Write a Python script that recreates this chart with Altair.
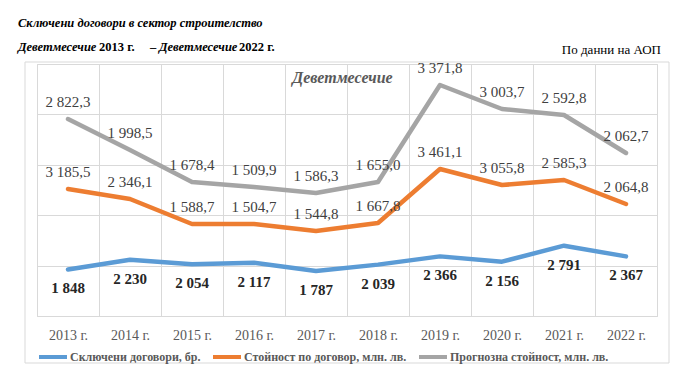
import altair as alt
import pandas as pd

years = ["2013 г.", "2014 г.", "2015 г.", "2016 г.", "2017 г.",
         "2018 г.", "2019 г.", "2020 г.", "2021 г.", "2022 г."]

series_names = ["Сключени договори, бр.",
                "Стойност по договор, млн. лв.",
                "Прогнозна стойност, млн. лв."]
series_colors = ["#5B9BD5", "#ED7D31", "#A5A5A5"]

# printed data labels
contracts = [1848, 2230, 2054, 2117, 1787, 2039, 2366, 2156, 2791, 2367]
contract_value_labels = [3185.5, 2346.1, 1588.7, 1504.7, 1544.8,
                         1667.8, 3461.1, 3055.8, 2585.3, 2064.8]
forecast_value_labels = [2822.3, 1998.5, 1678.4, 1509.9, 1586.3,
                         1655.0, 3371.8, 3003.7, 2592.8, 2062.7]

# line heights as drawn in the source (its lines do not follow every label)
contract_value_drawn = [2783, 2446, 1603, 1603, 1367, 1637, 3458, 2918, 3087, 2277]
forecast_value_drawn = [2768, 2214, 1643, 1554, 1446, 1643, 3375, 2946, 2839, 2161]


def fmt(v, decimals):
    s = f"{v:,.{decimals}f}"
    return s.replace(",", " ").replace(".", ",")


rows = []
for i, y in enumerate(years):
    rows.append({"year": y, "series": series_names[0],
                 "drawn": contracts[i], "label": fmt(contracts[i], 0)})
    rows.append({"year": y, "series": series_names[1],
                 "drawn": contract_value_drawn[i], "label": fmt(contract_value_labels[i], 1)})
    rows.append({"year": y, "series": series_names[2],
                 "drawn": forecast_value_drawn[i], "label": fmt(forecast_value_labels[i], 1)})
df = pd.DataFrame(rows)

FONT = "Liberation Serif"
GRID = "#d9d9d9"

color_scale = alt.Scale(domain=series_names, range=series_colors)

x_enc = alt.X(
    "year:N", sort=years, bandPosition=0.5,
    scale=alt.Scale(type="band", paddingInner=0, paddingOuter=0),
    axis=alt.Axis(title=None, grid=True, tickBand="extent", ticks=False,
                  domain=False, labelAngle=0, labelFont=FONT, labelFontSize=14,
                  labelColor="#595959", labelPadding=12, gridColor=GRID),
)


def series_layer(idx, domain, dy, bold, label_color, grid_axis=False, legend=None):
    name = series_names[idx]
    base = alt.Chart(df[df["series"] == name])
    if grid_axis:
        axis = alt.Axis(grid=True, labels=False, ticks=False, domain=False,
                        title=None, values=[0, 2000, 4000, 6000, 8000, 10000],
                        gridColor=GRID)
    else:
        axis = None
    y_enc = alt.Y("drawn:Q", scale=alt.Scale(domain=domain, nice=False, zero=False),
                  axis=axis)
    line = base.mark_line(strokeWidth=4.5, strokeCap="round", strokeJoin="round").encode(
        x=x_enc, y=y_enc,
        color=alt.Color("series:N", scale=color_scale, legend=legend),
    )
    text = base.mark_text(dy=dy, font=FONT, fontSize=15,
                          fontWeight="bold" if bold else "normal",
                          color=label_color).encode(
        x=x_enc, y=y_enc, text="label:N")
    return alt.layer(line, text)


legend = alt.Legend(orient="none", legendX=0, legendY=277, direction="horizontal",
                    title=None, symbolType="stroke", symbolStrokeWidth=4,
                    symbolSize=784, labelFont=FONT, labelFontWeight="bold",
                    labelFontSize=12, labelColor="#595959", columnPadding=4,
                    gridAlign="none", labelOffset=1, labelLimit=400)

blue = series_layer(0, [0, 10000], 19, True, "#262626", grid_axis=True, legend=legend)
orange = series_layer(1, [-1500, 7000], -17, False, "#404040")
gray = series_layer(2, [-750, 3750], -17, False, "#404040")

one = alt.Data(values=[{}])


def note(text, x, y, size=12.5, weight="bold", style="italic", color="black", align="left"):
    return alt.Chart(one).mark_text(
        text=text, font=FONT, fontSize=size, fontWeight=weight, fontStyle=style,
        color=color, align=align, baseline="middle",
    ).encode(x=alt.value(x), y=alt.value(y))


frame = alt.Chart(one).mark_rect(fillOpacity=0, stroke=GRID, strokeWidth=1).encode(
    x=alt.value(-12), x2=alt.value(632), y=alt.value(-2), y2=alt.value(299))

notes = [
    note("Сключени договори в сектор строителство", -19, -41),
    note("Деветмесечие", -19, -17),
    note("2013 г.", 62, -17, style="normal"),
    note("–", 113, -17, style="normal"),
    note("Деветмесечие", 122, -17),
    note("2022 г.", 202, -17, style="normal"),
    note("По данни на АОП", 624, -14, size=13, weight="normal", style="normal", align="right"),
    note("Деветмесечие", 305.5, 14, size=16, color="#595959", align="center"),
]

chart = alt.layer(frame, blue, orange, gray, *notes).resolve_scale(
    y="independent"
).properties(
    width=620, height=252,
    padding={"left": 29, "top": 56, "right": 20, "bottom": 59},
    autosize=alt.AutoSizeParams(type="none"),
    background="white",
).configure_view(stroke=GRID)

chart.save("out.html", embed_options={"renderer": "svg", "actions": False})
